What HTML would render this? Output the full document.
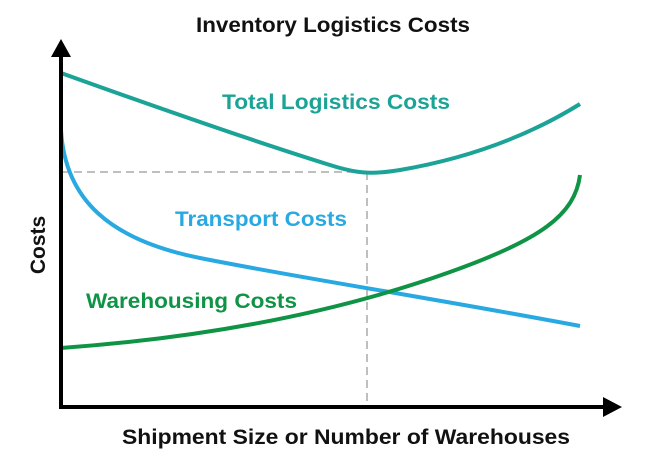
<!DOCTYPE html>
<html><head><style>
html,body{margin:0;padding:0;background:#fff;}
svg{display:block;}
text{font-family:"Liberation Sans",sans-serif;font-weight:bold;}
</style></head><body>
<svg width="648" height="470" viewBox="0 0 648 470" xmlns="http://www.w3.org/2000/svg">
<text x="196" y="32" font-size="21" textLength="274" lengthAdjust="spacingAndGlyphs" fill="#111">Inventory Logistics Costs</text>
<line x1="61" y1="172" x2="367" y2="172" stroke="#aaa" stroke-width="1.5" stroke-dasharray="8,5"/>
<line x1="367" y1="172" x2="367" y2="405" stroke="#aaa" stroke-width="1.5" stroke-dasharray="8,5"/>
<path d="M61,73 C150,105 250,140 330,165 C355,173 370,175 400,170 C470,158 530,135 580,104" fill="none" stroke="#1aa396" stroke-width="4"/>
<path d="M61,130 C65,200 110,240 200,258 C300,278 420,296 580,326" fill="none" stroke="#29a9e1" stroke-width="4"/>
<path d="M61,348 C200,338 330,315 450,272 C540,240 575,215 580,175" fill="none" stroke="#0f9445" stroke-width="4"/>
<line x1="61" y1="56" x2="61" y2="407" stroke="#000" stroke-width="4"/>
<polygon points="61,39 51,57 71,57" fill="#000"/>
<line x1="59" y1="407" x2="604" y2="407" stroke="#000" stroke-width="4"/>
<polygon points="622,407 603,397 603,417" fill="#000"/>
<text x="222" y="109" font-size="21" textLength="228" lengthAdjust="spacingAndGlyphs" fill="#1aa396">Total Logistics Costs</text>
<text x="175" y="226" font-size="21" textLength="172" lengthAdjust="spacingAndGlyphs" fill="#29a9e1">Transport Costs</text>
<text x="86" y="308" font-size="21" textLength="211" lengthAdjust="spacingAndGlyphs" fill="#0f9445">Warehousing Costs</text>
<text transform="translate(45,245) rotate(-90)" font-size="21" text-anchor="middle" fill="#111">Costs</text>
<text x="122" y="444" font-size="21" textLength="448" lengthAdjust="spacingAndGlyphs" fill="#111">Shipment Size or Number of Warehouses</text>
</svg>
</body></html>
